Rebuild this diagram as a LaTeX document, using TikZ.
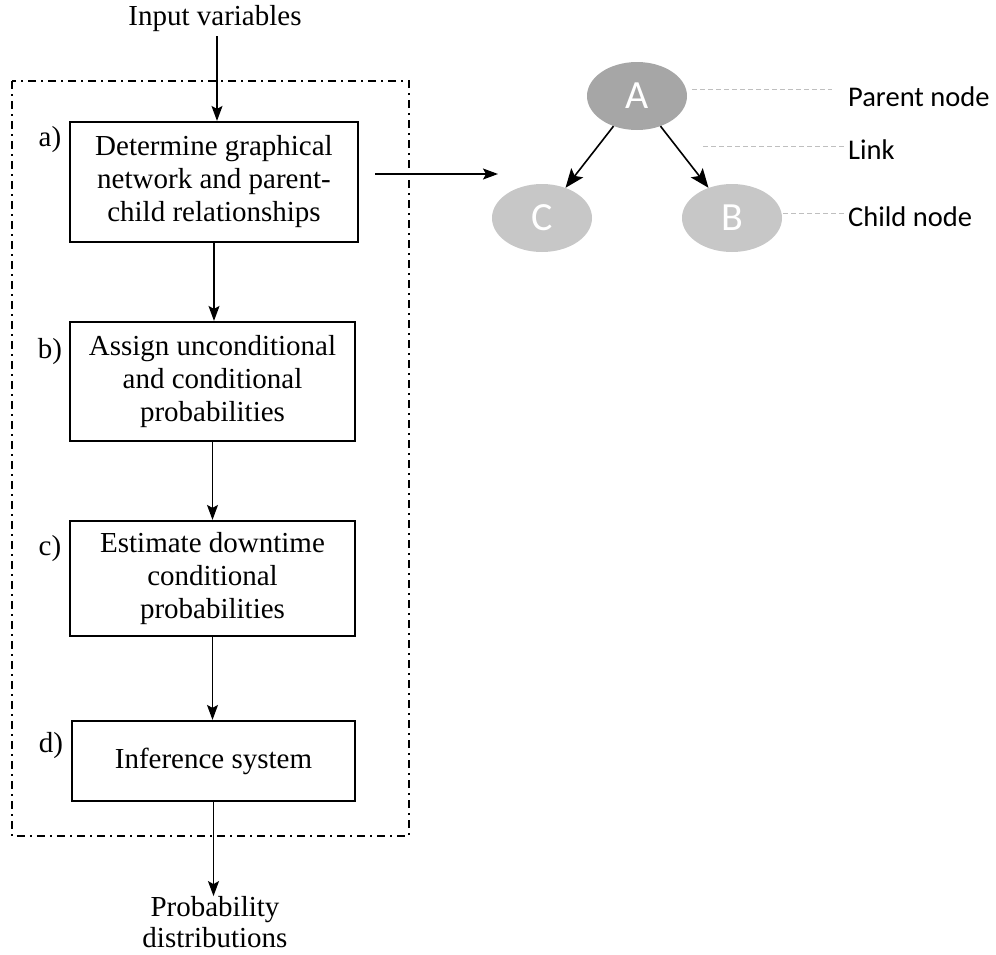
\documentclass[tikz,border=0pt]{standalone}
\usepackage{fontspec}
\setmainfont{Liberation Serif}
\newfontfamily\calib{Carlito}
\usetikzlibrary{arrows.meta,shapes.geometric}
\begin{document}
\begin{tikzpicture}[x=1pt,y=-1pt,
  stepbox/.style={draw,line width=2.2pt,align=center,font=\fontsize{29}{33}\selectfont,inner sep=0pt},
  lbl/.style={font=\fontsize{29}{31}\selectfont,align=center,inner sep=0pt},
  arr/.style={-{Stealth[length=15pt,width=11pt,inset=3pt]},line width=1.4pt},
  netarr/.style={-{Stealth[length=19pt,width=15pt,inset=4pt]},line width=1.6pt},
  bnode/.style={ellipse,minimum width=100pt,minimum height=68pt,inner sep=0pt,text=white,font=\calib\fontsize{40}{44}\selectfont},
  leader/.style={draw=gray!50,line width=0.9pt,dash pattern=on 5pt off 3pt},
  side/.style={font=\calib\fontsize{28.5}{32}\selectfont,anchor=west,inner sep=0pt}]
\useasboundingbox (0,0) rectangle (996,954);
% frame
\draw[line width=2pt,dash pattern=on 8pt off 5pt on 2pt off 5pt] (12,81) rectangle (409,836);
% boxes
\node[stepbox,minimum width=288pt,minimum height=120pt] (a) at (214,182) {Determine graphical\\network and parent-\\child relationships};
\node[stepbox,minimum width=285pt,minimum height=119pt] (b) at (212.5,381.5) {Assign unconditional\\and conditional\\probabilities};
\node[stepbox,minimum width=285pt,minimum height=115pt] (c) at (212.5,578.5) {Estimate downtime\\conditional\\probabilities};
\node[stepbox,minimum width=283pt,minimum height=80pt] (d) at (213.5,761) {Inference system};
% step labels
\node[lbl] (la) at (50,140) {a)};
\node[lbl] (lb) at (50,352) {b)};
\node[lbl] (lc) at (50,549) {c)};
\node[lbl] (ld) at (51,746) {d)};
% in/out text
\node[lbl] (in) at (215,19) {Input variables};
\node[lbl] (out) at (215,922) {Probability\\distributions};
% flow arrows
\draw[arr] (217,36) coordinate (inS) -- (inS |- a.north);
\draw[arr] (a.south) -- (a.south |- b.north);
\draw[arr] (b.south) -- (b.south |- c.north);
\draw[arr] (c.south) -- (c.south |- d.north);
\draw[arr] (d.south) -- (d.south |- out.north);
% network
\node[bnode,fill=black!35] (A) at (637,96) {A};
\node[bnode,fill=black!22] (C) at (542,218) {C};
\node[bnode,fill=black!22] (B) at (732,218) {B};
\draw[netarr] (A) -- (C);
\draw[netarr] (A) -- (B);
\coordinate (hs) at (375,174);
\coordinate (he) at (498,174);
\draw[arr] (hs) -- (he);
% legend
\node[side] (pn) at (848,97) {Parent node};
\node[side] (lk) at (848,150) {Link};
\node[side] (cn) at (848,217) {Child node};
\coordinate (p1) at (692,89);
\coordinate (p2) at (832,89);
\coordinate (l1) at (703,146);
\coordinate (l2) at (845,146);
\coordinate (c1) at (783,213);
\coordinate (c2) at (845,213);
\draw[leader] (p1) -- (p2);
\draw[leader] (l1) -- (l2);
\draw[leader] (c1) -- (c2);
\end{tikzpicture}
\end{document}
